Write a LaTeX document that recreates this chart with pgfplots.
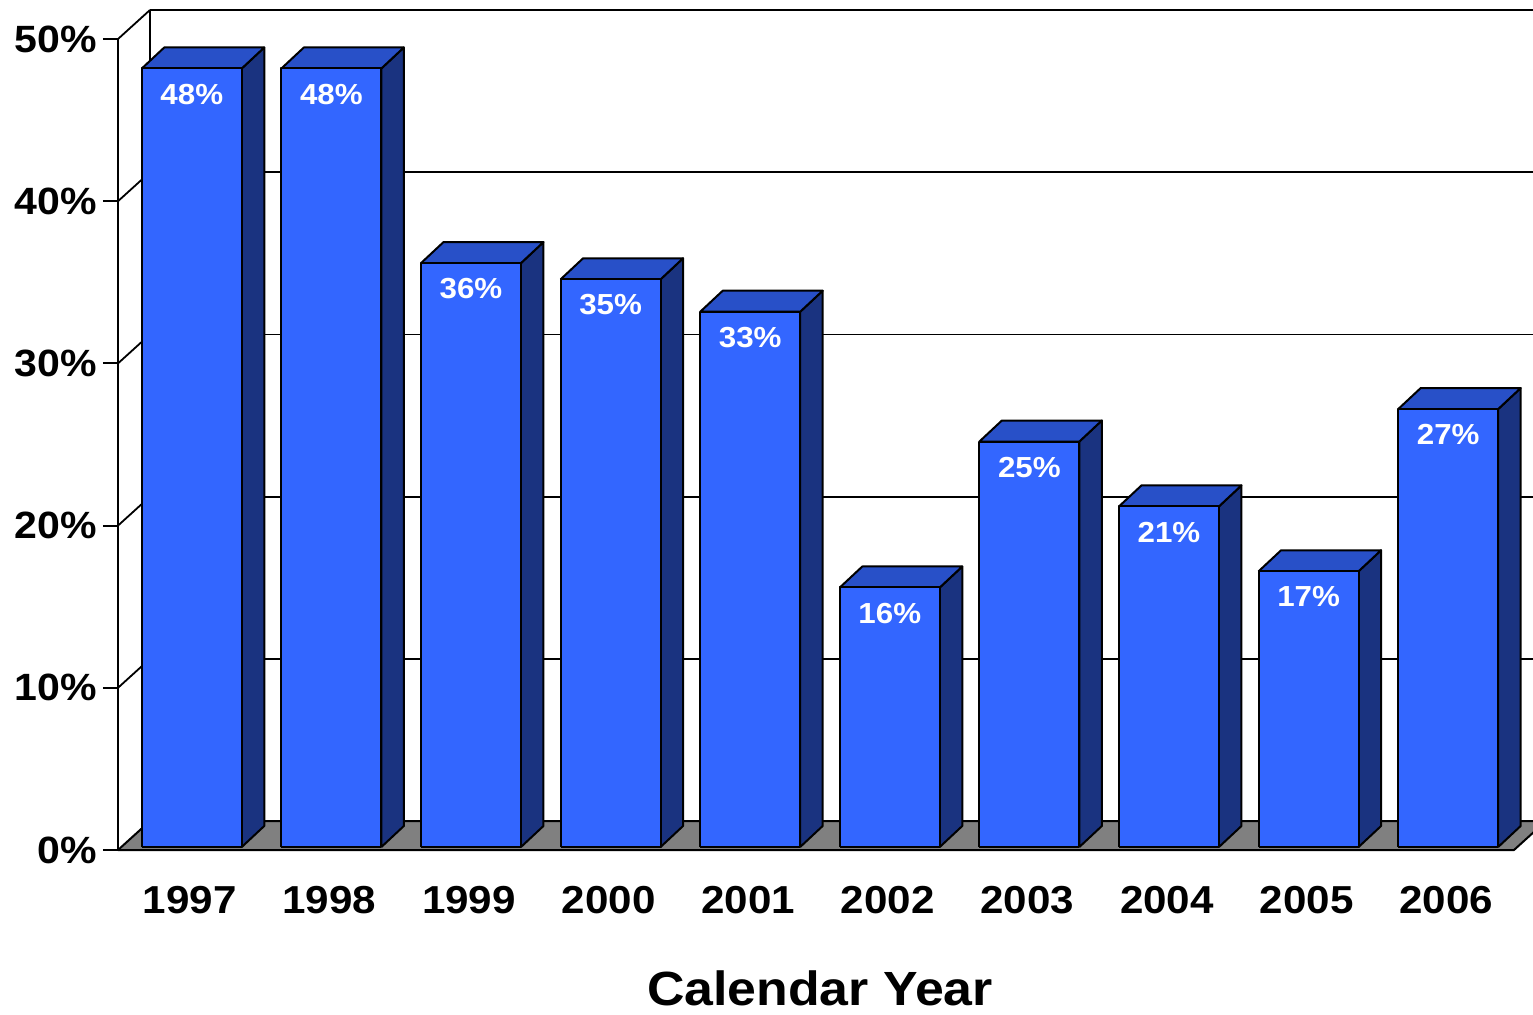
\documentclass[border=0pt]{standalone}
\usepackage{pgfplots}
\pgfplotsset{compat=1.18}
\usepackage{pgfplotstable}
\usepackage{fontspec}
\setmainfont[FakeStretch=1.08]{Liberation Sans}

\definecolor{barfront}{RGB}{51,102,255}
\definecolor{bartop}{RGB}{40,80,200}
\definecolor{barside}{RGB}{26,51,128}
\definecolor{floorgray}{RGB}{128,128,128}

% share per calendar year (percent)
\pgfplotstableread{
idx val
0 48
1 48
2 36
3 35
4 33
5 16
6 25
7 21
8 17
9 27
}\rates

% oblique 3-D geometry, in axis units
\def\barfx{0.0287}  % front face offset into the depth (x)
\def\barfy{0.185}   % front face offset into the depth (y)
\def\barhw{0.358}   % half bar width
\def\bardx{0.161}   % bar depth (x)
\def\bardy{1.295}   % bar depth (y)

\begin{document}
\begin{tikzpicture}
\begin{axis}[
  at={(0,0)}, anchor=south west,
  scale only axis, width=698pt, height=405.5pt,
  xmin=-0.5, xmax=9.5, ymin=0, ymax=50,
  clip=false,
  axis lines*=left,
  axis line style={-, line width=1pt, black},
  ytick={0,10,...,50},
  yticklabels={0\%,10\%,20\%,30\%,40\%,50\%},
  ytick pos=left,
  xtick={0,...,9},
  xticklabels={1997,1998,1999,2000,2001,2002,2003,2004,2005,2006},
  tick align=outside,
  major tick length=7.5pt,
  ytick style={line width=1pt, black},
  xtick style={draw=none},
  yticklabel style={anchor=east, inner sep=0pt, xshift=-3pt,
    font=\fontsize{19}{23}\selectfont\bfseries},
  xticklabel style={anchor=north, inner sep=0pt, yshift=-10.5pt, xshift=1pt,
    font=\fontsize{19.5}{23}\selectfont\bfseries},
  xlabel={Calendar Year},
  xlabel style={font=\fontsize{24}{28}\selectfont\bfseries,
    at={(axis description cs:0.5,0)}, anchor=north, inner sep=0pt,
    yshift=-60pt, xshift=2pt},
  barface/.style={draw=black, line width=1pt, line join=round},
  wall/.style={draw=black, line width=0.9pt},
]
% floor
\addplot[barface, fill=floorgray] coordinates {(-0.5,0) (9.5,0) (9.729,1.788) (-0.271,1.788) (-0.5,0)};
% back wall: grid lines, top edge and corner
\addplot[wall] coordinates {(-0.271,11.788) (9.729,11.788)};
\addplot[wall] coordinates {(-0.271,21.788) (9.729,21.788)};
\addplot[wall] coordinates {(-0.271,31.788) (9.729,31.788)};
\addplot[wall] coordinates {(-0.271,41.788) (9.729,41.788)};
\addplot[wall] coordinates {(-0.271,51.788) (9.729,51.788)};
\addplot[wall] coordinates {(-0.271,1.788) (-0.271,51.788)};
% side wall grid lines
\addplot[wall] coordinates {(-0.5,10) (-0.271,11.788)};
\addplot[wall] coordinates {(-0.5,20) (-0.271,21.788)};
\addplot[wall] coordinates {(-0.5,30) (-0.271,31.788)};
\addplot[wall] coordinates {(-0.5,40) (-0.271,41.788)};
\addplot[wall] coordinates {(-0.5,50) (-0.271,51.788)};
% bars: side, top and front faces
\pgfplotsinvokeforeach{0,...,9}{
  \pgfplotstablegetelem{#1}{val}\of\rates
  \pgfmathsetmacro\xl{#1+\barfx-\barhw}
  \pgfmathsetmacro\xr{#1+\barfx+\barhw}
  \pgfmathsetmacro\xlb{\xl+\bardx}
  \pgfmathsetmacro\xrb{\xr+\bardx}
  \pgfmathsetmacro\yt{\pgfplotsretval+\barfy}
  \pgfmathsetmacro\ytb{\yt+\bardy}
  \pgfmathsetmacro\ybb{\barfy+\bardy}
  \edef\drawbar{%
    \noexpand\addplot[barface, fill=barside] coordinates {(\xr,\barfy) (\xrb,\ybb) (\xrb,\ytb) (\xr,\yt) (\xr,\barfy)};
    \noexpand\addplot[barface, fill=bartop] coordinates {(\xl,\yt) (\xr,\yt) (\xrb,\ytb) (\xlb,\ytb) (\xl,\yt)};
    \noexpand\addplot[barface, fill=barfront] coordinates {(\xl,\barfy) (\xr,\barfy) (\xr,\yt) (\xl,\yt) (\xl,\barfy)};
  }\drawbar
}
% value labels on the front faces
\addplot[draw=none, mark=none, point meta=explicit,
  nodes near coords={\pgfmathprintnumber[assume math mode=true]{\pgfplotspointmeta}\%},
  nodes near coords align=below,
  every node near coord/.append style={inner sep=0pt, yshift=-7.5pt, text=white,
    font=\fontsize{14.5}{18}\selectfont\bfseries}]
  table[x expr=\thisrow{idx}+\barfx, y expr=\thisrow{val}+\barfy, meta=val] {\rates};
\end{axis}
\pgfresetboundingbox
\useasboundingbox (-59pt,-82pt) rectangle (707.5pt,425pt);
\end{tikzpicture}
\end{document}
